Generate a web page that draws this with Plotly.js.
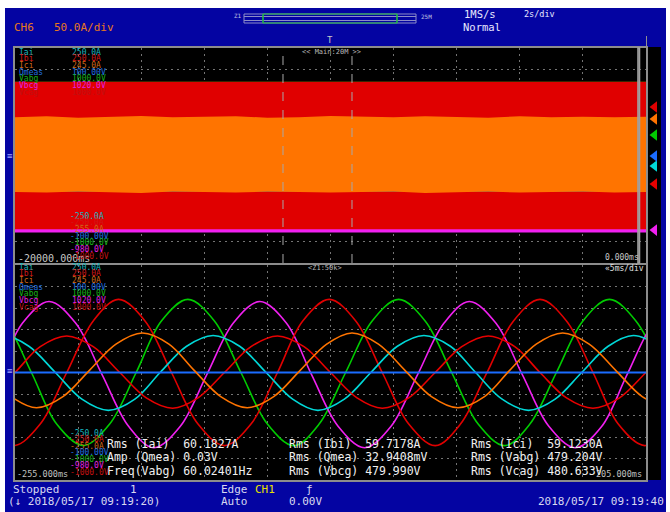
<!DOCTYPE html>
<html><head><meta charset="utf-8">
<script src="https://cdn.plot.ly/plotly-3.0.1.min.js"></script>
<style>html,body{margin:0;padding:0;background:#fff}#chart{width:670px;height:512px}</style>
</head><body><div id="chart"></div>
<script>
const W = 670, H = 512;
const MONO = 'DejaVu Sans Mono, monospace';

// ---- channels ----
const channels = ['Iai','Ibi','Ici','Qmeas','Vabg','Vbcg','Vcag'];
const upperLabels = ['250.0A','250.0A','245.0A','100.00V','1000.0V','1020.0V','1000.0V'];
const lowerLabels = ['-250.0A','-250.0A','-255.0A','-100.00V','-1000.0V','-980.0V','-1000.0V'];
const chRanges = [[-250,250],[-250,250],[-255,245],[-100,100],[-1000,1000],[-980,1020],[-1000,1000]];
const traceColors = ['#00d8d8','#e80000','#ff7400','#1a6cff','#00cc00','#f020f0','#e00000'];
const labelColors = ['#18b8c0','#d01818','#d06818','#2070e0','#18b018','#e020e0','#c01010'];
const markerLevels = [-0.49, -1.33, 1.70, -0.02, 0.95, -3.47, 2.26]; // divisions, main window

// ---- main window (20 s) envelopes, ms ----
const mainTime = [-20000,-19000,-18000,-17000,-16000,-15000,-14000,-13000,-12000,-11000,-10000,-9000,-8000,-7000,-6000,-5000,-4000,-3000,-2000,-1000,0];
const iciEnvHi = [84,86,83,85,87,84,85,86,83,84,87,85,84,86,85,83,86,84,85,84,85];
const iciEnvLo = [-90,-91,-89,-90,-92,-89,-90,-91,-89,-90,-91,-90,-89,-92,-90,-89,-91,-90,-89,-91,-90];
const flatTime = [-20000, 0];
const iaiEnv = [84, -84];
const ibiEnv = [83, -83];
const vabgEnv = [685, -685];
const vbcgEnv = [690, -690];
const vcagEnv = [685, -685];
const qmeasLevel = [0, 0];
const cursorTimes = [-11506, -9319];
const zoomWindow = [-255, -205];

// ---- zoom window (50 ms) waveforms, ms ----
const zoomTime = [-255, -205];
const vabgT = [-257.9,-255.8,-253.7,-251.7,-249.6,-247.5,-245.4,-243.4,-241.3,-239.2,-237.1,-235.0,-232.9,-230.9,-228.8,-226.7,-224.6,-222.5,-220.4,-218.3,-216.2,-214.2,-212.1,-210.0,-207.9,-205.8,-203.7];
const vabgV = [680,480,0,-480,-680,-480,0,480,680,480,0,-480,-680,-480,0,480,680,480,0,-480,-680,-480,0,480,680,480,0];
const vbcgT = [-260.6,-258.5,-256.4,-254.4,-252.3,-250.2,-248.1,-246.0,-244.0,-241.9,-239.8,-237.7,-235.6,-233.5,-231.5,-229.4,-227.3,-225.2,-223.1,-221.0,-219.0,-216.9,-214.8,-212.7,-210.6,-208.5,-206.5,-204.4,-202.3];
const vbcgV = [-680,-480,0,480,680,480,0,-480,-680,-480,0,480,680,480,0,-480,-680,-480,0,480,680,480,0,-480,-680,-480,0,480,680];
const vcagT = [-259.2,-257.2,-255.1,-253.0,-250.9,-248.8,-246.8,-244.7,-242.6,-240.5,-238.4,-236.3,-234.2,-232.2,-230.1,-228.0,-225.9,-223.8,-221.7,-219.7,-217.6,-215.5,-213.4,-211.3,-209.2,-207.2,-205.1,-203.0];
const vcagV = [0,-480,-680,-480,0,480,680,480,0,-480,-680,-480,0,480,680,480,0,-480,-680,-480,0,480,680,480,0,-480,-680,-480];
const iaiT = [-258.0,-255.95,-253.9,-251.8,-249.7,-247.6,-245.5,-243.5,-241.4,-239.3,-237.2,-235.1,-233.0,-231.0,-228.9,-226.8,-224.7,-222.6,-220.5,-218.5,-216.4,-214.3,-212.2,-210.1,-208.0,-206.0,-203.9];
const iaiA = [61,86,61,0,-62,-88,-62,0,61,86,61,0,-62,-88,-62,0,61,86,61,0,-62,-88,-62,0,61,86,61];
const ibiT = [-259.2,-257.1,-255.0,-253.0,-250.9,-248.8,-246.7,-244.6,-242.5,-240.5,-238.4,-236.3,-234.2,-232.1,-230.0,-227.9,-225.9,-223.8,-221.7,-219.6,-217.5,-215.4,-213.4,-211.3,-209.2,-207.1,-205.0,-202.9];
const ibiA = [-83,-59,0,60,85,60,0,-59,-83,-59,0,60,85,60,0,-59,-83,-59,0,60,85,60,0,-59,-83,-59,0,60];
const iciT = [-259.5,-257.4,-255.3,-253.3,-251.2,-249.1,-247.0,-244.9,-242.8,-240.8,-238.7,-236.6,-234.5,-232.4,-230.3,-228.3,-226.2,-224.1,-222.0,-219.9,-217.8,-215.8,-213.7,-211.6,-209.5,-207.4,-205.3,-203.3];
const iciA = [61,0,-61,-87,-61,0,61,87,61,0,-61,-87,-61,0,61,87,61,0,-61,-87,-61,0,61,87,61,0,-61,-87];

// ---- texts ----
const measurements = [
  ['Rms (Iai)  60.1827A', 'Rms (Ibi)  59.7178A', 'Rms (Ici)  59.1230A'],
  ['Amp (Qmea) 0.03V', 'Rms (Qmea) 32.9408mV', 'Rms (Vabg) 479.204V'],
  ['Freq(Vabg) 60.02401Hz', 'Rms (Vbcg) 479.990V', 'Rms (Vcag) 480.633V']
];

// ---- helpers ----
const px = x => x / W, py = y => 1 - y / H;
function T(text, x, y, color, size, xanchor) {
  return {text, x: px(x), y: py(y), xref: 'paper', yref: 'paper', xanchor: xanchor || 'left',
    yanchor: 'middle', showarrow: false, font: {family: MONO, size, color}};
}
function band(t, hi, lo, color, xa, ya, lw) {
  return {x: t.concat(t.slice().reverse()), y: hi.concat(lo.slice().reverse()), fill: 'toself',
    fillcolor: color, mode: 'lines', line: {width: lw || 0, color}, xaxis: xa, yaxis: ya, hoverinfo: 'skip'};
}
function flatBand(env, color, ya, lw) {
  return band(flatTime, [env[0], env[0]], [env[1], env[1]], color, 'x', ya, lw);
}
function wave(t, v, color, xa, ya) {
  return {x: t, y: v, mode: 'lines', line: {color, width: 1.6, shape: 'spline', smoothing: 1},
    xaxis: xa, yaxis: ya, hoverinfo: 'skip'};
}

// axis per channel (drawing order follows axis order): Iai,Ibi,Ici,Qmeas,Vabg,Vbcg,Vcag
const topAx = ['y4','y4','y6','y5','y','y2','y3'];
const botAx = ['y10','y10','y12','y11','y7','y8','y9'];
const C = traceColors;

const traces = [
  // main window
  flatBand(vabgEnv, C[4], topAx[4]),
  flatBand(vbcgEnv, C[5], topAx[5], 1.5),
  flatBand(vcagEnv, C[6], topAx[6]),
  flatBand(iaiEnv, C[0], topAx[0]),
  flatBand(ibiEnv, C[1], topAx[1]),
  {x: flatTime, y: qmeasLevel, mode: 'lines', line: {color: C[3], width: 2}, xaxis: 'x', yaxis: topAx[3]},
  band(mainTime, iciEnvHi, iciEnvLo, C[2], 'x', topAx[2]),
  // zoom window
  wave(vabgT, vabgV, C[4], 'x2', botAx[4]),
  wave(vbcgT, vbcgV, C[5], 'x2', botAx[5]),
  wave(vcagT, vcagV, C[6], 'x2', botAx[6]),
  wave(iaiT, iaiA, C[0], 'x2', botAx[0]),
  wave(ibiT, ibiA, C[1], 'x2', botAx[1]),
  wave(iciT, iciA, C[2], 'x2', botAx[2]),
  {x: zoomTime, y: qmeasLevel, mode: 'lines', line: {color: C[3], width: 2}, xaxis: 'x2', yaxis: botAx[3]},
  // channel position markers
  {x: markerLevels.map(() => 0.5), y: markerLevels, mode: 'markers', xaxis: 'x3', yaxis: 'y13',
   marker: {symbol: 'triangle-left', size: 10, color: C, line: {width: 0}}}
];

const gridStyle = {showgrid: true, gridcolor: '#747474', gridwidth: 1, griddash: '2px,4px',
  showline: true, mirror: true, linecolor: '#8c8c8c', linewidth: 2, zeroline: false,
  showticklabels: false, ticks: '', fixedrange: true};
const hidden = {visible: false, fixedrange: true};
const xDom = [px(15), px(646)];
const topDom = [py(263), py(48)];
const botDom = [py(480), py(265)];

const layout = {
  width: W, height: H, margin: {l: 0, r: 0, t: 0, b: 0}, showlegend: false,
  paper_bgcolor: '#ffffff', plot_bgcolor: '#000000',
  xaxis: Object.assign({domain: xDom, range: [-20000, 0], dtick: 2000, anchor: 'y'}, gridStyle),
  yaxis: Object.assign({domain: topDom, range: chRanges[4], dtick: 200, anchor: 'x'}, gridStyle),
  yaxis2: Object.assign({overlaying: 'y', anchor: 'x', range: chRanges[5]}, hidden),
  yaxis3: Object.assign({overlaying: 'y', anchor: 'x', range: chRanges[6]}, hidden),
  yaxis4: Object.assign({overlaying: 'y', anchor: 'x', range: chRanges[0]}, hidden),
  yaxis5: Object.assign({overlaying: 'y', anchor: 'x', range: chRanges[3]}, hidden),
  yaxis6: Object.assign({overlaying: 'y', anchor: 'x', range: chRanges[2]}, hidden),
  xaxis2: Object.assign({domain: xDom, range: zoomTime, dtick: 5, anchor: 'y7'}, gridStyle),
  yaxis7: Object.assign({domain: botDom, range: chRanges[4], dtick: 200, anchor: 'x2'}, gridStyle),
  yaxis8: Object.assign({overlaying: 'y7', anchor: 'x2', range: chRanges[5]}, hidden),
  yaxis9: Object.assign({overlaying: 'y7', anchor: 'x2', range: chRanges[6]}, hidden),
  yaxis10: Object.assign({overlaying: 'y7', anchor: 'x2', range: chRanges[0]}, hidden),
  yaxis11: Object.assign({overlaying: 'y7', anchor: 'x2', range: chRanges[3]}, hidden),
  yaxis12: Object.assign({overlaying: 'y7', anchor: 'x2', range: chRanges[2]}, hidden),
  xaxis3: Object.assign({domain: [px(648), px(661)], range: [0, 1], anchor: 'y13'}, hidden),
  yaxis13: Object.assign({domain: topDom, range: [-5, 5], anchor: 'x3'}, hidden),
  shapes: [
    {type: 'rect', xref: 'paper', yref: 'paper', x0: px(5), x1: px(666), y0: py(512), y1: py(8),
     fillcolor: '#0404a2', line: {width: 0}, layer: 'below'},
    {type: 'rect', xref: 'paper', yref: 'paper', x0: px(15), x1: px(661), y0: py(480), y1: py(47),
     fillcolor: '#000000', line: {width: 0}, layer: 'below'},
    // record bar
    {type: 'rect', xref: 'paper', yref: 'paper', x0: px(244), x1: px(416), y0: py(23), y1: py(14),
     line: {color: '#8c8cc8', width: 1}, fillcolor: 'rgba(0,0,0,0)'},
    {type: 'line', xref: 'paper', yref: 'paper', x0: px(244), x1: px(416), y0: py(16.5), y1: py(16.5), line: {color: '#8c8cc8', width: 1}},
    {type: 'line', xref: 'paper', yref: 'paper', x0: px(244), x1: px(416), y0: py(20.5), y1: py(20.5), line: {color: '#8c8cc8', width: 1}},
    {type: 'line', xref: 'paper', yref: 'paper', x0: px(263), x1: px(263), y0: py(23), y1: py(14), line: {color: '#20c040', width: 1.5}},
    {type: 'line', xref: 'paper', yref: 'paper', x0: px(397), x1: px(397), y0: py(23), y1: py(14), line: {color: '#20c040', width: 1.5}},
    {type: 'line', xref: 'paper', yref: 'paper', x0: px(263), x1: px(397), y0: py(14), y1: py(14), line: {color: '#20c040', width: 1}},
    {type: 'line', xref: 'paper', yref: 'paper', x0: px(263), x1: px(397), y0: py(23), y1: py(23), line: {color: '#20c040', width: 1}},
    // cursors and zoom window in the main display
    ...cursorTimes.map(t => ({type: 'line', xref: 'x', yref: 'paper', x0: t, x1: t, y0: topDom[0], y1: topDom[1],
      line: {color: '#a8a8a8', width: 1, dash: 'dash'}})),
    {type: 'rect', xref: 'x', yref: 'paper', x0: zoomWindow[0], x1: zoomWindow[1], y0: topDom[0], y1: topDom[1],
     line: {color: '#a0a0a0', width: 1.5}, fillcolor: 'rgba(0,0,0,0)'},
    {type: 'line', xref: 'paper', yref: 'paper', x0: px(646.5), x1: px(646.5), y0: py(263), y1: py(36),
     line: {color: '#909090', width: 1}}
  ],
  annotations: []
};

const A = layout.annotations;
// top bar
A.push(T('CH6', 12, 27, '#e8781c', 11));
A.push(T('50.0A/div', 52, 27, '#e8781c', 11));
A.push(T('Z1', 232, 15, '#c0c0e0', 6));
A.push(T('25M', 419, 16, '#c0c0e0', 6));
A.push(T('1MS/s', 462, 14, '#e8e8ff', 10.5));
A.push(T('2s/div', 522, 14, '#e8e8ff', 8.5));
A.push(T('Normal', 461, 27, '#e8e8ff', 10.5));
A.push(T('T', 330, 40, '#c8c8c8', 9, 'center'));
A.push(T('≡', 10, 156, '#a0a0ff', 9, 'center'));
A.push(T('≡', 10, 371, '#a0a0ff', 9, 'center'));
// main display texts
A.push(T('&lt;&lt; Main:20M &gt;&gt;', 331, 52, '#b8b8b8', 7, 'center'));
A.push(T('-20000.000ms', 16, 258, '#c8c8c8', 10));
A.push(T('0.000ms', 641, 257, '#c8c8c8', 8, 'right'));
channels.forEach((c, i) => {
  A.push(T(c, 17, 52 + 6.7 * i, labelColors[i], 8));
  A.push(T(upperLabels[i], 70, 52 + 6.7 * i, labelColors[i], 8));
  A.push(T(lowerLabels[i], 68, 216 + 6.7 * i, labelColors[i], 8));
});
// zoom display texts
A.push(T('&lt;Z1:50k&gt;', 325, 268, '#b8b8b8', 7, 'center'));
A.push(T('«5ms/div', 646, 268, '#e0e0e0', 8, 'right'));
A.push(T('-255.000ms', 15, 474, '#c0c0c0', 8.5));
A.push(T('205.000ms', 644, 474, '#c0c0c0', 8.5, 'right'));
channels.forEach((c, i) => {
  A.push(T(c, 17, 267 + 6.7 * i, labelColors[i], 8));
  A.push(T(upperLabels[i], 70, 267 + 6.7 * i, labelColors[i], 8));
  A.push(T(lowerLabels[i], 68, 433 + 6.5 * i, labelColors[i], 8));
});
const colX = [105, 287, 469], rowY = [444, 457, 471];
measurements.forEach((row, r) => row.forEach((s, c) => A.push(T(s, colX[c], rowY[r], '#f0f0f0', 11.5))));
// status bar
const st = '#d8d8f0';
A.push(T('Stopped', 11, 489, st, 11));
A.push(T('1', 128, 489, st, 11));
A.push(T('Edge', 219, 489, st, 11));
A.push(T('CH1', 253, 489, '#e8e000', 11));
A.push(T('ƒ', 304, 489, st, 11));
A.push(T('(↓ 2018/05/17 09:19:20)', 6, 501, st, 11));
A.push(T('Auto', 219, 501, st, 11));
A.push(T('0.00V', 287, 501, st, 11));
A.push(T('2018/05/17 09:19:40', 536, 501, st, 11));

Plotly.newPlot('chart', traces, layout, {displayModeBar: false, staticPlot: true});
</script>
</body></html>
